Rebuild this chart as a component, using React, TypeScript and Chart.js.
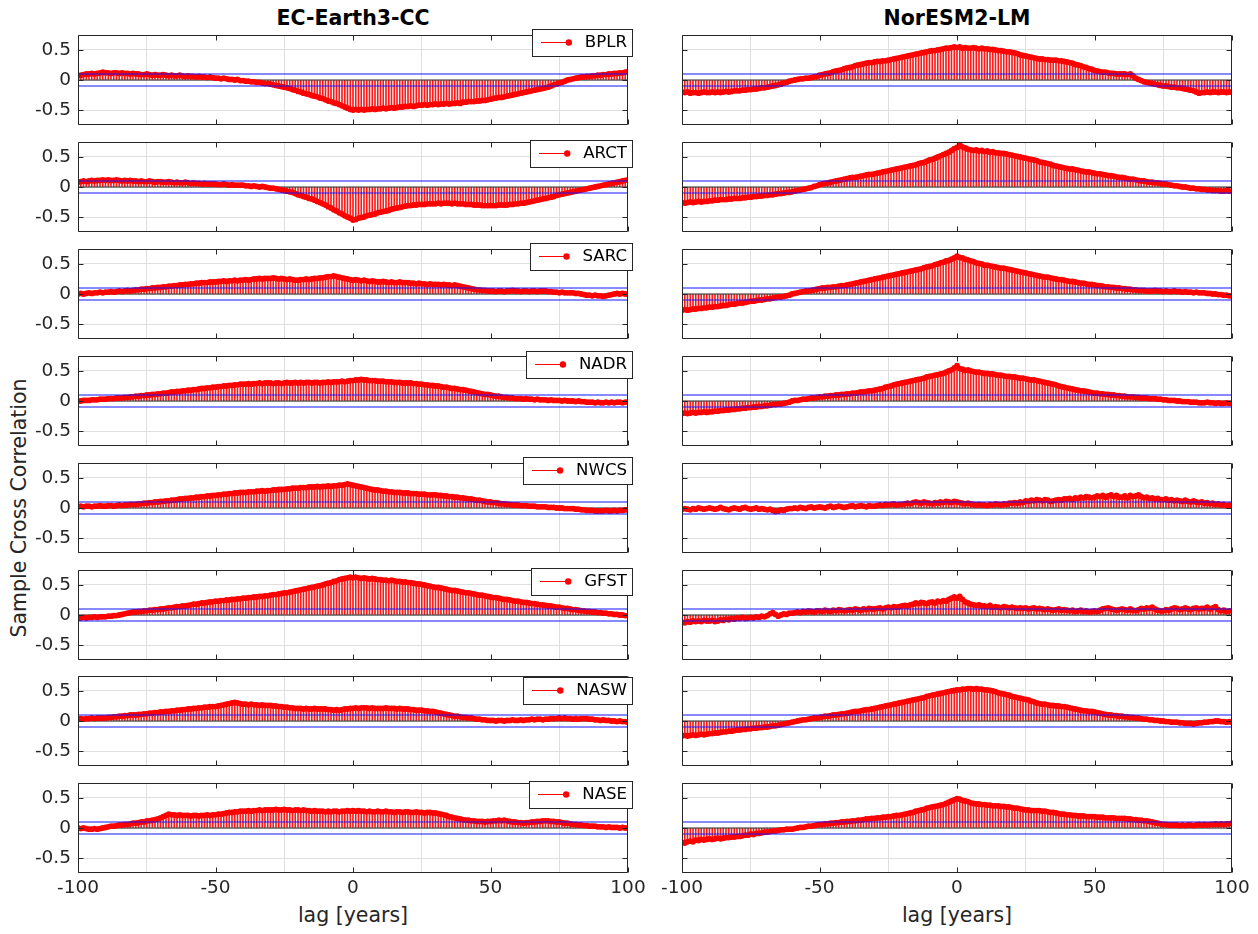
import React, { useEffect, useRef } from 'react';
import { Chart, registerables } from 'chart.js';

Chart.register(...registerables);

const MODELS = ['EC-Earth3-CC', 'NorESM2-LM'];
const REGIONS = ['BPLR', 'ARCT', 'SARC', 'NADR', 'NWCS', 'GFST', 'NASW', 'NASE'];
const LAGS: number[] = Array.from({ length: 201 }, (_, i) => i - 100);
const CONF = 0.1;
const X_TICKS = [-100, -50, 0, 50, 100];
const Y_TICKS = [-0.5, 0, 0.5];
const X_LABEL = 'lag [years]';
const Y_LABEL = 'Sample Cross Correlation';

// ---------- EC-Earth3-CC ----------
const EC_BPLR = [
  0.07, 0.08, 0.09, 0.10, 0.10, 0.11, 0.10, 0.11, 0.12, 0.13,
  0.12, 0.12, 0.11, 0.12, 0.12, 0.11, 0.12, 0.11, 0.11, 0.10,
  0.11, 0.10, 0.10, 0.09, 0.09, 0.10, 0.09, 0.08, 0.09, 0.08,
  0.08, 0.09, 0.08, 0.07, 0.08, 0.07, 0.07, 0.08, 0.07, 0.06,
  0.07, 0.06, 0.06, 0.05, 0.06, 0.05, 0.05, 0.04, 0.05, 0.04,
  0.03, 0.03, 0.02, 0.03, 0.02, 0.01, 0.01, 0.00, 0.01, -0.01,
  -0.01, -0.02, -0.02, -0.03, -0.03, -0.04, -0.04, -0.05, -0.06, -0.06,
  -0.07, -0.08, -0.09, -0.10, -0.11, -0.12, -0.13, -0.14, -0.16, -0.17,
  -0.19, -0.20, -0.22, -0.23, -0.24, -0.26, -0.27, -0.28, -0.30, -0.31,
  -0.33, -0.35, -0.36, -0.38, -0.39, -0.41, -0.43, -0.45, -0.47, -0.49,
  -0.50, -0.49, -0.50, -0.49, -0.50, -0.49, -0.49, -0.48, -0.49, -0.48,
  -0.48, -0.47, -0.48, -0.47, -0.46, -0.47, -0.46, -0.45, -0.45, -0.44,
  -0.44, -0.43, -0.44, -0.43, -0.42, -0.42, -0.41, -0.42, -0.41, -0.41,
  -0.40, -0.41, -0.40, -0.40, -0.39, -0.40, -0.39, -0.39, -0.38, -0.39,
  -0.37, -0.37, -0.36, -0.36, -0.36, -0.35, -0.35, -0.34, -0.34, -0.33,
  -0.32, -0.31, -0.30, -0.29, -0.29, -0.28, -0.27, -0.26, -0.25, -0.24,
  -0.23, -0.22, -0.21, -0.20, -0.19, -0.18, -0.17, -0.16, -0.15, -0.14,
  -0.13, -0.12, -0.10, -0.08, -0.07, -0.05, -0.04, -0.02, 0.00, 0.01,
  0.02, 0.03, 0.04, 0.05, 0.05, 0.06, 0.06, 0.07, 0.07, 0.08,
  0.08, 0.09, 0.09, 0.10, 0.10, 0.11, 0.11, 0.12, 0.12, 0.13,
  0.14,
];

const EC_ARCT = [
  0.08, 0.09, 0.10, 0.09, 0.10, 0.11, 0.10, 0.11, 0.11, 0.12,
  0.11, 0.12, 0.11, 0.11, 0.12, 0.11, 0.10, 0.11, 0.10, 0.11,
  0.10, 0.10, 0.09, 0.10, 0.09, 0.09, 0.10, 0.09, 0.08, 0.09,
  0.09, 0.08, 0.08, 0.09, 0.08, 0.07, 0.08, 0.07, 0.07, 0.08,
  0.07, 0.06, 0.07, 0.06, 0.06, 0.05, 0.06, 0.05, 0.05, 0.05,
  0.05, 0.04, 0.04, 0.05, 0.04, 0.03, 0.04, 0.03, 0.03, 0.03,
  0.03, 0.02, 0.02, 0.01, 0.02, 0.01, 0.00, 0.01, 0.00, -0.01,
  -0.02, -0.02, -0.03, -0.04, -0.05, -0.06, -0.07, -0.08, -0.09, -0.11,
  -0.13, -0.14, -0.16, -0.17, -0.19, -0.20, -0.22, -0.24, -0.26, -0.28,
  -0.30, -0.33, -0.35, -0.38, -0.40, -0.43, -0.45, -0.48, -0.50, -0.52,
  -0.55, -0.54, -0.52, -0.51, -0.50, -0.48, -0.47, -0.46, -0.45, -0.43,
  -0.42, -0.41, -0.40, -0.39, -0.37, -0.36, -0.35, -0.34, -0.33, -0.32,
  -0.31, -0.31, -0.30, -0.30, -0.29, -0.29, -0.29, -0.28, -0.28, -0.28,
  -0.28, -0.27, -0.28, -0.27, -0.27, -0.27, -0.28, -0.27, -0.28, -0.28,
  -0.28, -0.29, -0.29, -0.29, -0.30, -0.30, -0.30, -0.31, -0.31, -0.31,
  -0.31, -0.31, -0.31, -0.30, -0.30, -0.30, -0.30, -0.29, -0.29, -0.28,
  -0.28, -0.27, -0.27, -0.26, -0.25, -0.24, -0.23, -0.22, -0.21, -0.20,
  -0.19, -0.18, -0.17, -0.16, -0.14, -0.13, -0.12, -0.11, -0.10, -0.09,
  -0.08, -0.07, -0.06, -0.05, -0.04, -0.03, -0.02, -0.01, 0.00, 0.01,
  0.02, 0.03, 0.04, 0.05, 0.06, 0.07, 0.08, 0.09, 0.10, 0.11,
  0.12,
];

const EC_SARC = [
  0.00, 0.01, 0.00, 0.01, 0.02, 0.01, 0.02, 0.02, 0.03, 0.02,
  0.03, 0.03, 0.04, 0.03, 0.04, 0.05, 0.04, 0.05, 0.06, 0.05,
  0.06, 0.07, 0.07, 0.08, 0.08, 0.09, 0.09, 0.10, 0.10, 0.11,
  0.11, 0.12, 0.12, 0.13, 0.13, 0.14, 0.14, 0.15, 0.15, 0.16,
  0.16, 0.17, 0.17, 0.18, 0.18, 0.19, 0.19, 0.19, 0.20, 0.20,
  0.20, 0.21, 0.21, 0.22, 0.21, 0.22, 0.22, 0.23, 0.22, 0.23,
  0.23, 0.24, 0.23, 0.24, 0.25, 0.25, 0.26, 0.25, 0.26, 0.26,
  0.26, 0.27, 0.26, 0.25, 0.26, 0.25, 0.24, 0.25, 0.24, 0.23,
  0.23, 0.24, 0.24, 0.25, 0.24, 0.25, 0.26, 0.26, 0.27, 0.27,
  0.28, 0.29, 0.29, 0.30, 0.29, 0.28, 0.27, 0.26, 0.25, 0.24,
  0.23, 0.24, 0.23, 0.22, 0.23, 0.22, 0.21, 0.22, 0.21, 0.20,
  0.20, 0.21, 0.20, 0.19, 0.20, 0.19, 0.19, 0.20, 0.19, 0.19,
  0.19, 0.18, 0.18, 0.17, 0.18, 0.17, 0.17, 0.16, 0.17, 0.16,
  0.16, 0.16, 0.15, 0.16, 0.15, 0.15, 0.14, 0.15, 0.14, 0.13,
  0.12, 0.11, 0.10, 0.09, 0.08, 0.07, 0.07, 0.06, 0.06, 0.05,
  0.05, 0.05, 0.04, 0.05, 0.05, 0.04, 0.05, 0.05, 0.06, 0.05,
  0.05, 0.04, 0.05, 0.05, 0.04, 0.05, 0.05, 0.04, 0.05, 0.05,
  0.05, 0.04, 0.04, 0.03, 0.03, 0.02, 0.03, 0.02, 0.02, 0.02,
  0.02, 0.01, 0.01, 0.00, -0.01, -0.02, -0.02, -0.03, -0.02, -0.03,
  -0.03, -0.04, -0.03, -0.02, -0.01, 0.00, 0.01, 0.00, 0.01, 0.00,
  0.00,
];

const EC_NADR = [
  0.00, 0.00, 0.01, 0.01, 0.01, 0.02, 0.02, 0.02, 0.03, 0.03,
  0.03, 0.04, 0.04, 0.04, 0.05, 0.05, 0.05, 0.06, 0.06, 0.07,
  0.07, 0.08, 0.08, 0.09, 0.09, 0.10, 0.10, 0.11, 0.11, 0.12,
  0.12, 0.13, 0.13, 0.14, 0.15, 0.15, 0.16, 0.16, 0.17, 0.17,
  0.18, 0.18, 0.19, 0.19, 0.20, 0.21, 0.21, 0.22, 0.22, 0.23,
  0.23, 0.24, 0.24, 0.25, 0.25, 0.26, 0.26, 0.27, 0.27, 0.28,
  0.28, 0.28, 0.29, 0.28, 0.29, 0.29, 0.30, 0.29, 0.30, 0.30,
  0.30, 0.29, 0.30, 0.30, 0.29, 0.30, 0.31, 0.30, 0.30, 0.31,
  0.30, 0.31, 0.30, 0.31, 0.31, 0.30, 0.31, 0.31, 0.30, 0.31,
  0.31, 0.32, 0.31, 0.32, 0.32, 0.32, 0.33, 0.32, 0.33, 0.34,
  0.34, 0.35, 0.35, 0.36, 0.35, 0.35, 0.34, 0.34, 0.34, 0.33,
  0.33, 0.33, 0.32, 0.32, 0.32, 0.31, 0.31, 0.31, 0.30, 0.30,
  0.30, 0.30, 0.29, 0.29, 0.28, 0.28, 0.27, 0.27, 0.26, 0.26,
  0.25, 0.25, 0.24, 0.23, 0.23, 0.22, 0.21, 0.21, 0.20, 0.19,
  0.19, 0.18, 0.17, 0.16, 0.15, 0.14, 0.13, 0.12, 0.11, 0.11,
  0.10, 0.09, 0.08, 0.08, 0.07, 0.06, 0.06, 0.05, 0.05, 0.04,
  0.04, 0.04, 0.03, 0.04, 0.03, 0.03, 0.02, 0.03, 0.02, 0.02,
  0.02, 0.01, 0.02, 0.01, 0.01, 0.01, 0.00, 0.01, 0.00, 0.00,
  0.00, -0.01, 0.00, -0.01, -0.01, -0.02, -0.02, -0.02, -0.03, -0.02,
  -0.03, -0.03, -0.02, -0.03, -0.02, -0.03, -0.02, -0.02, -0.03, -0.02,
  -0.02,
];

const EC_NWCS = [
  0.02, 0.03, 0.02, 0.03, 0.03, 0.02, 0.03, 0.03, 0.04, 0.03,
  0.03, 0.04, 0.04, 0.03, 0.04, 0.05, 0.04, 0.05, 0.05, 0.06,
  0.06, 0.06, 0.07, 0.07, 0.08, 0.08, 0.09, 0.09, 0.10, 0.10,
  0.11, 0.11, 0.12, 0.12, 0.13, 0.13, 0.14, 0.15, 0.15, 0.16,
  0.16, 0.17, 0.17, 0.18, 0.18, 0.19, 0.19, 0.20, 0.20, 0.21,
  0.21, 0.22, 0.22, 0.23, 0.23, 0.24, 0.24, 0.25, 0.25, 0.26,
  0.26, 0.26, 0.27, 0.27, 0.27, 0.28, 0.28, 0.29, 0.28, 0.29,
  0.29, 0.30, 0.30, 0.31, 0.31, 0.31, 0.32, 0.32, 0.33, 0.33,
  0.33, 0.34, 0.34, 0.34, 0.35, 0.35, 0.35, 0.36, 0.35, 0.36,
  0.36, 0.37, 0.36, 0.37, 0.37, 0.38, 0.38, 0.39, 0.40, 0.39,
  0.38, 0.37, 0.36, 0.35, 0.34, 0.33, 0.32, 0.31, 0.30, 0.30,
  0.29, 0.28, 0.28, 0.27, 0.27, 0.26, 0.26, 0.26, 0.25, 0.25,
  0.25, 0.24, 0.24, 0.24, 0.23, 0.23, 0.23, 0.22, 0.22, 0.22,
  0.22, 0.21, 0.21, 0.20, 0.20, 0.19, 0.19, 0.18, 0.18, 0.17,
  0.17, 0.16, 0.15, 0.15, 0.14, 0.13, 0.13, 0.12, 0.11, 0.10,
  0.10, 0.09, 0.09, 0.08, 0.07, 0.07, 0.06, 0.06, 0.05, 0.05,
  0.05, 0.04, 0.04, 0.04, 0.03, 0.03, 0.03, 0.02, 0.02, 0.02,
  0.02, 0.01, 0.01, 0.01, 0.00, 0.00, 0.00, -0.01, -0.01, -0.01,
  -0.01, -0.02, -0.02, -0.03, -0.03, -0.04, -0.04, -0.04, -0.05, -0.05,
  -0.05, -0.05, -0.04, -0.05, -0.05, -0.04, -0.05, -0.04, -0.04, -0.03,
  -0.03,
];

const EC_GFST = [
  -0.05, -0.05, -0.04, -0.05, -0.04, -0.04, -0.03, -0.04, -0.03, -0.03,
  -0.03, -0.02, -0.02, -0.01, -0.01, 0.00, 0.01, 0.02, 0.03, 0.04,
  0.05, 0.05, 0.06, 0.06, 0.07, 0.07, 0.08, 0.08, 0.09, 0.09,
  0.10, 0.10, 0.11, 0.12, 0.12, 0.13, 0.14, 0.14, 0.15, 0.15,
  0.16, 0.17, 0.18, 0.18, 0.19, 0.20, 0.20, 0.21, 0.22, 0.22,
  0.23, 0.23, 0.24, 0.24, 0.25, 0.25, 0.26, 0.26, 0.27, 0.27,
  0.28, 0.28, 0.29, 0.29, 0.30, 0.30, 0.31, 0.31, 0.32, 0.32,
  0.33, 0.34, 0.34, 0.35, 0.36, 0.37, 0.37, 0.38, 0.39, 0.40,
  0.41, 0.42, 0.43, 0.44, 0.45, 0.46, 0.47, 0.48, 0.49, 0.50,
  0.52, 0.53, 0.54, 0.56, 0.57, 0.59, 0.60, 0.61, 0.62, 0.63,
  0.62, 0.63, 0.62, 0.61, 0.62, 0.61, 0.60, 0.61, 0.60, 0.59,
  0.59, 0.58, 0.58, 0.57, 0.58, 0.57, 0.56, 0.56, 0.55, 0.55,
  0.54, 0.54, 0.53, 0.52, 0.52, 0.51, 0.50, 0.49, 0.48, 0.47,
  0.46, 0.46, 0.45, 0.44, 0.43, 0.42, 0.41, 0.41, 0.40, 0.39,
  0.38, 0.37, 0.37, 0.36, 0.35, 0.34, 0.33, 0.33, 0.32, 0.31,
  0.30, 0.29, 0.29, 0.28, 0.27, 0.26, 0.26, 0.25, 0.24, 0.23,
  0.23, 0.22, 0.21, 0.21, 0.20, 0.19, 0.19, 0.18, 0.17, 0.17,
  0.16, 0.15, 0.15, 0.14, 0.13, 0.13, 0.12, 0.11, 0.11, 0.10,
  0.09, 0.09, 0.08, 0.07, 0.07, 0.06, 0.06, 0.05, 0.05, 0.04,
  0.04, 0.03, 0.03, 0.02, 0.02, 0.01, 0.01, 0.00, 0.00, -0.01,
  -0.01,
];

const EC_NASW = [
  0.03, 0.04, 0.03, 0.04, 0.04, 0.05, 0.04, 0.05, 0.05, 0.05,
  0.05, 0.06, 0.06, 0.07, 0.07, 0.08, 0.08, 0.09, 0.09, 0.10,
  0.10, 0.10, 0.11, 0.11, 0.12, 0.12, 0.13, 0.13, 0.14, 0.14,
  0.15, 0.15, 0.16, 0.16, 0.17, 0.17, 0.18, 0.18, 0.19, 0.19,
  0.20, 0.20, 0.21, 0.21, 0.22, 0.22, 0.23, 0.23, 0.24, 0.24,
  0.24, 0.25, 0.26, 0.27, 0.28, 0.29, 0.30, 0.31, 0.30, 0.29,
  0.28, 0.28, 0.27, 0.28, 0.27, 0.27, 0.26, 0.27, 0.26, 0.26,
  0.26, 0.25, 0.25, 0.24, 0.24, 0.23, 0.23, 0.22, 0.22, 0.21,
  0.21, 0.21, 0.20, 0.21, 0.20, 0.20, 0.21, 0.20, 0.20, 0.20,
  0.20, 0.19, 0.19, 0.18, 0.19, 0.18, 0.19, 0.20, 0.20, 0.21,
  0.21, 0.22, 0.21, 0.22, 0.22, 0.22, 0.21, 0.22, 0.21, 0.21,
  0.21, 0.21, 0.22, 0.21, 0.21, 0.21, 0.20, 0.21, 0.20, 0.20,
  0.20, 0.19, 0.19, 0.18, 0.18, 0.18, 0.17, 0.17, 0.16, 0.16,
  0.15, 0.14, 0.13, 0.12, 0.11, 0.10, 0.09, 0.08, 0.08, 0.07,
  0.06, 0.06, 0.05, 0.05, 0.04, 0.03, 0.03, 0.02, 0.02, 0.01,
  0.01, 0.01, 0.00, 0.01, 0.01, 0.00, 0.01, 0.01, 0.02, 0.01,
  0.01, 0.02, 0.01, 0.02, 0.02, 0.03, 0.02, 0.03, 0.03, 0.02,
  0.03, 0.03, 0.04, 0.04, 0.04, 0.05, 0.04, 0.05, 0.04, 0.04,
  0.03, 0.04, 0.03, 0.04, 0.04, 0.04, 0.03, 0.03, 0.02, 0.02,
  0.01, 0.02, 0.01, 0.01, 0.00, 0.00, -0.01, 0.00, -0.01, -0.01,
  -0.02,
];

const EC_NASE = [
  0.00, -0.01, 0.00, -0.01, -0.02, -0.02, -0.01, -0.02, -0.01, 0.00,
  0.01, 0.02, 0.03, 0.03, 0.04, 0.05, 0.05, 0.06, 0.06, 0.07,
  0.08, 0.08, 0.09, 0.10, 0.10, 0.12, 0.12, 0.13, 0.14, 0.15,
  0.17, 0.19, 0.21, 0.23, 0.22, 0.22, 0.21, 0.22, 0.21, 0.21,
  0.21, 0.20, 0.21, 0.21, 0.20, 0.21, 0.21, 0.22, 0.21, 0.22,
  0.22, 0.23, 0.23, 0.24, 0.25, 0.26, 0.26, 0.27, 0.27, 0.28,
  0.28, 0.28, 0.29, 0.28, 0.29, 0.29, 0.30, 0.29, 0.30, 0.30,
  0.30, 0.30, 0.31, 0.30, 0.30, 0.31, 0.30, 0.30, 0.29, 0.30,
  0.30, 0.29, 0.30, 0.29, 0.29, 0.28, 0.29, 0.28, 0.28, 0.28,
  0.27, 0.28, 0.27, 0.28, 0.28, 0.27, 0.28, 0.28, 0.29, 0.28,
  0.29, 0.28, 0.29, 0.28, 0.28, 0.27, 0.28, 0.27, 0.27, 0.28,
  0.27, 0.27, 0.28, 0.27, 0.27, 0.26, 0.27, 0.27, 0.26, 0.27,
  0.27, 0.26, 0.26, 0.27, 0.26, 0.26, 0.25, 0.26, 0.26, 0.25,
  0.25, 0.24, 0.23, 0.22, 0.21, 0.19, 0.18, 0.17, 0.16, 0.15,
  0.14, 0.13, 0.13, 0.12, 0.12, 0.11, 0.11, 0.11, 0.10, 0.11,
  0.11, 0.12, 0.12, 0.13, 0.12, 0.13, 0.12, 0.11, 0.10, 0.10,
  0.09, 0.09, 0.08, 0.09, 0.09, 0.10, 0.10, 0.11, 0.11, 0.12,
  0.12, 0.12, 0.11, 0.11, 0.10, 0.10, 0.09, 0.08, 0.08, 0.07,
  0.06, 0.06, 0.05, 0.05, 0.04, 0.04, 0.03, 0.03, 0.03, 0.02,
  0.02, 0.02, 0.01, 0.02, 0.01, 0.01, 0.01, 0.00, 0.01, 0.00,
  0.00,
];

// ---------- NorESM2-LM ----------
const NOR_BPLR = [
  -0.20, -0.21, -0.20, -0.22, -0.21, -0.21, -0.22, -0.21, -0.20, -0.21,
  -0.21, -0.20, -0.21, -0.20, -0.21, -0.20, -0.19, -0.20, -0.19, -0.18,
  -0.18, -0.18, -0.17, -0.17, -0.16, -0.16, -0.15, -0.15, -0.14, -0.13,
  -0.13, -0.12, -0.11, -0.10, -0.09, -0.08, -0.07, -0.05, -0.04, -0.02,
  -0.01, 0.00, 0.01, 0.02, 0.02, 0.03, 0.03, 0.04, 0.05, 0.06,
  0.08, 0.09, 0.10, 0.11, 0.12, 0.14, 0.15, 0.16, 0.17, 0.19,
  0.20, 0.21, 0.22, 0.24, 0.25, 0.26, 0.27, 0.28, 0.29, 0.29,
  0.30, 0.31, 0.31, 0.32, 0.32, 0.33, 0.34, 0.35, 0.36, 0.37,
  0.38, 0.39, 0.40, 0.41, 0.42, 0.43, 0.44, 0.45, 0.46, 0.47,
  0.48, 0.49, 0.49, 0.50, 0.51, 0.52, 0.53, 0.53, 0.54, 0.55,
  0.54, 0.55, 0.53, 0.54, 0.53, 0.53, 0.54, 0.53, 0.52, 0.53,
  0.52, 0.52, 0.51, 0.51, 0.50, 0.49, 0.49, 0.48, 0.47, 0.47,
  0.46, 0.45, 0.44, 0.42, 0.41, 0.40, 0.39, 0.38, 0.37, 0.36,
  0.35, 0.35, 0.34, 0.34, 0.33, 0.33, 0.33, 0.32, 0.32, 0.31,
  0.30, 0.29, 0.28, 0.26, 0.25, 0.24, 0.22, 0.21, 0.19, 0.18,
  0.16, 0.15, 0.14, 0.13, 0.13, 0.12, 0.11, 0.11, 0.10, 0.10,
  0.10, 0.10, 0.09, 0.10, 0.07, 0.03, 0.01, -0.01, -0.03, -0.04,
  -0.05, -0.06, -0.07, -0.08, -0.09, -0.10, -0.10, -0.11, -0.12, -0.12,
  -0.13, -0.13, -0.14, -0.15, -0.16, -0.17, -0.18, -0.20, -0.22, -0.21,
  -0.21, -0.20, -0.21, -0.20, -0.20, -0.21, -0.20, -0.20, -0.21, -0.20,
  -0.20,
];

const NOR_ARCT = [
  -0.26, -0.27, -0.26, -0.25, -0.26, -0.25, -0.24, -0.25, -0.24, -0.24,
  -0.23, -0.23, -0.22, -0.22, -0.21, -0.21, -0.21, -0.20, -0.20, -0.19,
  -0.19, -0.19, -0.18, -0.18, -0.17, -0.17, -0.16, -0.16, -0.15, -0.15,
  -0.14, -0.14, -0.13, -0.13, -0.12, -0.11, -0.11, -0.10, -0.09, -0.09,
  -0.08, -0.07, -0.06, -0.05, -0.04, -0.03, -0.02, -0.01, 0.01, 0.02,
  0.04, 0.05, 0.06, 0.07, 0.08, 0.09, 0.10, 0.11, 0.12, 0.13,
  0.14, 0.15, 0.16, 0.16, 0.17, 0.18, 0.19, 0.20, 0.21, 0.21,
  0.22, 0.23, 0.24, 0.25, 0.26, 0.27, 0.28, 0.29, 0.30, 0.31,
  0.32, 0.33, 0.34, 0.35, 0.36, 0.37, 0.39, 0.40, 0.41, 0.43,
  0.45, 0.46, 0.48, 0.50, 0.52, 0.54, 0.56, 0.58, 0.61, 0.64,
  0.66, 0.70, 0.67, 0.65, 0.63, 0.62, 0.61, 0.62, 0.60, 0.61,
  0.59, 0.60, 0.58, 0.59, 0.57, 0.57, 0.56, 0.56, 0.55, 0.54,
  0.53, 0.52, 0.51, 0.50, 0.49, 0.48, 0.47, 0.46, 0.45, 0.44,
  0.42, 0.41, 0.40, 0.39, 0.38, 0.36, 0.35, 0.34, 0.33, 0.32,
  0.31, 0.30, 0.30, 0.29, 0.28, 0.27, 0.26, 0.25, 0.25, 0.24,
  0.23, 0.22, 0.22, 0.21, 0.20, 0.19, 0.19, 0.18, 0.17, 0.16,
  0.16, 0.15, 0.14, 0.13, 0.13, 0.12, 0.11, 0.10, 0.10, 0.09,
  0.08, 0.08, 0.07, 0.07, 0.06, 0.05, 0.05, 0.04, 0.03, 0.02,
  0.02, 0.01, 0.00, 0.00, -0.01, -0.02, -0.02, -0.03, -0.03, -0.04,
  -0.04, -0.05, -0.05, -0.06, -0.06, -0.06, -0.07, -0.07, -0.06, -0.07,
  -0.07,
];

const NOR_SARC = [
  -0.27, -0.26, -0.27, -0.26, -0.25, -0.25, -0.24, -0.24, -0.23, -0.23,
  -0.22, -0.22, -0.21, -0.21, -0.20, -0.19, -0.19, -0.18, -0.17, -0.17,
  -0.16, -0.15, -0.15, -0.14, -0.13, -0.12, -0.12, -0.11, -0.10, -0.10,
  -0.09, -0.08, -0.08, -0.07, -0.06, -0.05, -0.05, -0.04, -0.03, -0.02,
  0.00, 0.01, 0.02, 0.03, 0.04, 0.05, 0.05, 0.06, 0.07, 0.08,
  0.09, 0.10, 0.10, 0.11, 0.11, 0.12, 0.12, 0.13, 0.14, 0.14,
  0.15, 0.16, 0.17, 0.18, 0.19, 0.20, 0.21, 0.22, 0.23, 0.24,
  0.25, 0.26, 0.27, 0.28, 0.29, 0.30, 0.31, 0.32, 0.33, 0.34,
  0.35, 0.36, 0.37, 0.38, 0.39, 0.40, 0.41, 0.42, 0.44, 0.45,
  0.46, 0.47, 0.49, 0.50, 0.52, 0.53, 0.55, 0.56, 0.58, 0.60,
  0.63, 0.61, 0.60, 0.58, 0.57, 0.55, 0.54, 0.52, 0.51, 0.50,
  0.48, 0.48, 0.47, 0.46, 0.45, 0.44, 0.43, 0.43, 0.42, 0.41,
  0.40, 0.39, 0.38, 0.37, 0.36, 0.35, 0.34, 0.33, 0.32, 0.31,
  0.30, 0.29, 0.28, 0.28, 0.27, 0.26, 0.25, 0.24, 0.24, 0.23,
  0.22, 0.21, 0.21, 0.20, 0.19, 0.18, 0.18, 0.17, 0.16, 0.16,
  0.15, 0.14, 0.14, 0.13, 0.12, 0.12, 0.11, 0.11, 0.10, 0.10,
  0.09, 0.09, 0.08, 0.08, 0.07, 0.07, 0.06, 0.06, 0.06, 0.05,
  0.05, 0.05, 0.06, 0.05, 0.05, 0.04, 0.05, 0.04, 0.04, 0.05,
  0.04, 0.04, 0.03, 0.04, 0.03, 0.03, 0.02, 0.03, 0.02, 0.02,
  0.02, 0.01, 0.01, 0.00, 0.00, -0.01, -0.01, -0.02, -0.02, -0.03,
  -0.03,
];

const NOR_NADR = [
  -0.21, -0.20, -0.21, -0.20, -0.19, -0.20, -0.19, -0.19, -0.18, -0.19,
  -0.18, -0.18, -0.17, -0.17, -0.16, -0.16, -0.15, -0.15, -0.14, -0.14,
  -0.13, -0.13, -0.12, -0.12, -0.11, -0.11, -0.10, -0.10, -0.09, -0.09,
  -0.08, -0.08, -0.07, -0.06, -0.06, -0.05, -0.05, -0.04, -0.03, -0.02,
  0.00, 0.01, 0.01, 0.02, 0.03, 0.03, 0.04, 0.05, 0.05, 0.06,
  0.07, 0.07, 0.08, 0.08, 0.09, 0.09, 0.10, 0.10, 0.11, 0.11,
  0.12, 0.12, 0.13, 0.13, 0.14, 0.15, 0.15, 0.16, 0.17, 0.17,
  0.18, 0.19, 0.20, 0.21, 0.23, 0.24, 0.25, 0.27, 0.28, 0.29,
  0.30, 0.31, 0.32, 0.33, 0.34, 0.35, 0.36, 0.37, 0.38, 0.40,
  0.41, 0.42, 0.43, 0.44, 0.45, 0.46, 0.48, 0.50, 0.52, 0.55,
  0.59, 0.54, 0.53, 0.51, 0.52, 0.50, 0.49, 0.48, 0.48, 0.47,
  0.46, 0.46, 0.45, 0.45, 0.44, 0.43, 0.43, 0.42, 0.41, 0.41,
  0.40, 0.40, 0.39, 0.38, 0.38, 0.37, 0.36, 0.35, 0.35, 0.34,
  0.33, 0.32, 0.31, 0.30, 0.29, 0.28, 0.27, 0.25, 0.24, 0.23,
  0.22, 0.21, 0.20, 0.19, 0.18, 0.17, 0.17, 0.16, 0.15, 0.14,
  0.13, 0.13, 0.12, 0.12, 0.11, 0.11, 0.10, 0.10, 0.09, 0.09,
  0.08, 0.08, 0.07, 0.07, 0.07, 0.06, 0.06, 0.05, 0.05, 0.05,
  0.04, 0.04, 0.04, 0.03, 0.03, 0.02, 0.02, 0.01, 0.01, 0.01,
  0.00, 0.00, -0.01, -0.01, -0.01, -0.02, -0.02, -0.02, -0.03, -0.03,
  -0.03, -0.02, -0.03, -0.03, -0.04, -0.03, -0.04, -0.04, -0.03, -0.04,
  -0.04,
];

const NOR_NWCS = [
  -0.02, -0.01, -0.02, -0.03, -0.01, -0.02, 0.00, -0.01, -0.02, -0.01,
  0.00, -0.01, -0.02, -0.01, 0.01, -0.01, -0.02, -0.03, -0.01, 0.00,
  -0.01, -0.02, 0.00, 0.01, -0.01, -0.02, -0.01, 0.00, -0.02, -0.01,
  -0.02, -0.03, -0.02, -0.04, -0.06, -0.05, -0.03, -0.04, -0.02, -0.01,
  -0.01, 0.00, -0.01, 0.01, 0.00, -0.01, 0.01, 0.02, 0.00, 0.01,
  0.02, 0.01, 0.00, 0.02, 0.03, 0.01, 0.02, 0.03, 0.02, 0.01,
  0.02, 0.03, 0.04, 0.02, 0.03, 0.04, 0.03, 0.02, 0.04, 0.03,
  0.03, 0.04, 0.05, 0.04, 0.06, 0.05, 0.06, 0.07, 0.05, 0.06,
  0.06, 0.07, 0.08, 0.07, 0.09, 0.10, 0.09, 0.08, 0.10, 0.09,
  0.08, 0.07, 0.09, 0.08, 0.10, 0.09, 0.11, 0.10, 0.09, 0.11,
  0.10, 0.09, 0.08, 0.07, 0.08, 0.07, 0.06, 0.05, 0.06, 0.05,
  0.05, 0.04, 0.06, 0.05, 0.07, 0.06, 0.05, 0.07, 0.06, 0.08,
  0.08, 0.09, 0.08, 0.10, 0.09, 0.12, 0.11, 0.13, 0.12, 0.14,
  0.13, 0.12, 0.14, 0.13, 0.11, 0.12, 0.13, 0.14, 0.13, 0.15,
  0.15, 0.16, 0.14, 0.17, 0.16, 0.18, 0.17, 0.19, 0.18, 0.17,
  0.18, 0.20, 0.19, 0.21, 0.18, 0.20, 0.22, 0.19, 0.21, 0.18,
  0.18, 0.20, 0.17, 0.21, 0.19, 0.20, 0.22, 0.19, 0.17, 0.18,
  0.16, 0.17, 0.15, 0.16, 0.14, 0.14, 0.15, 0.13, 0.14, 0.12,
  0.13, 0.12, 0.11, 0.13, 0.11, 0.10, 0.12, 0.10, 0.09, 0.10,
  0.08, 0.09, 0.07, 0.08, 0.06, 0.07, 0.05, 0.06, 0.04, 0.05,
  0.03,
];

const NOR_GFST = [
  -0.12, -0.13, -0.11, -0.12, -0.10, -0.11, -0.10, -0.11, -0.09, -0.10,
  -0.10, -0.09, -0.11, -0.10, -0.08, -0.09, -0.07, -0.08, -0.06, -0.07,
  -0.05, -0.06, -0.04, -0.06, -0.05, -0.04, -0.05, -0.03, -0.04, -0.02,
  -0.03, -0.01, 0.02, 0.04, 0.01, -0.02, 0.00, 0.02, 0.01, 0.03,
  0.03, 0.04, 0.05, 0.04, 0.06, 0.05, 0.07, 0.06, 0.05, 0.07,
  0.07, 0.06, 0.08, 0.07, 0.06, 0.08, 0.07, 0.09, 0.08, 0.07,
  0.08, 0.09, 0.08, 0.10, 0.09, 0.08, 0.10, 0.09, 0.11, 0.10,
  0.10, 0.11, 0.12, 0.10, 0.12, 0.13, 0.12, 0.14, 0.13, 0.14,
  0.15, 0.16, 0.15, 0.17, 0.18, 0.20, 0.19, 0.21, 0.20, 0.19,
  0.21, 0.22, 0.20, 0.23, 0.22, 0.24, 0.23, 0.26, 0.28, 0.30,
  0.28, 0.31, 0.26, 0.22, 0.20, 0.18, 0.17, 0.16, 0.17, 0.15,
  0.15, 0.14, 0.16, 0.13, 0.14, 0.13, 0.12, 0.14, 0.13, 0.12,
  0.13, 0.12, 0.11, 0.12, 0.11, 0.12, 0.10, 0.11, 0.12, 0.10,
  0.11, 0.10, 0.09, 0.10, 0.09, 0.08, 0.09, 0.10, 0.08, 0.09,
  0.08, 0.07, 0.08, 0.06, 0.07, 0.08, 0.06, 0.07, 0.05, 0.06,
  0.07, 0.06, 0.08, 0.10, 0.11, 0.12, 0.10, 0.09, 0.08, 0.09,
  0.10, 0.09, 0.08, 0.10, 0.08, 0.07, 0.09, 0.11, 0.10, 0.12,
  0.11, 0.13, 0.10, 0.08, 0.07, 0.07, 0.09, 0.08, 0.10, 0.12,
  0.11, 0.09, 0.10, 0.12, 0.10, 0.09, 0.11, 0.12, 0.10, 0.11,
  0.11, 0.13, 0.10, 0.12, 0.14, 0.09, 0.07, 0.08, 0.06, 0.07,
  0.07,
];

const NOR_NASW = [
  -0.25, -0.24, -0.25, -0.24, -0.23, -0.24, -0.23, -0.22, -0.23, -0.22,
  -0.21, -0.21, -0.20, -0.20, -0.19, -0.18, -0.18, -0.17, -0.17, -0.16,
  -0.15, -0.15, -0.14, -0.14, -0.13, -0.13, -0.12, -0.12, -0.11, -0.11,
  -0.10, -0.10, -0.09, -0.08, -0.08, -0.07, -0.06, -0.05, -0.04, -0.03,
  -0.02, -0.01, 0.00, 0.01, 0.02, 0.02, 0.03, 0.04, 0.05, 0.05,
  0.06, 0.07, 0.08, 0.08, 0.09, 0.10, 0.10, 0.11, 0.12, 0.12,
  0.13, 0.14, 0.15, 0.16, 0.16, 0.17, 0.18, 0.19, 0.19, 0.20,
  0.21, 0.22, 0.23, 0.24, 0.25, 0.26, 0.27, 0.28, 0.29, 0.30,
  0.31, 0.32, 0.33, 0.34, 0.35, 0.36, 0.37, 0.38, 0.39, 0.41,
  0.42, 0.43, 0.44, 0.45, 0.46, 0.47, 0.48, 0.49, 0.50, 0.51,
  0.52, 0.52, 0.53, 0.53, 0.54, 0.54, 0.53, 0.54, 0.53, 0.53,
  0.52, 0.52, 0.51, 0.50, 0.49, 0.47, 0.46, 0.45, 0.44, 0.43,
  0.41, 0.40, 0.39, 0.38, 0.37, 0.36, 0.35, 0.33, 0.32, 0.30,
  0.29, 0.28, 0.28, 0.27, 0.26, 0.26, 0.25, 0.25, 0.24, 0.24,
  0.23, 0.22, 0.21, 0.20, 0.19, 0.18, 0.17, 0.17, 0.16, 0.16,
  0.15, 0.14, 0.13, 0.12, 0.11, 0.10, 0.10, 0.09, 0.09, 0.08,
  0.08, 0.07, 0.07, 0.06, 0.06, 0.05, 0.05, 0.04, 0.03, 0.03,
  0.02, 0.02, 0.01, 0.01, 0.00, 0.00, -0.01, -0.01, -0.02, -0.02,
  -0.02, -0.03, -0.03, -0.04, -0.04, -0.04, -0.05, -0.04, -0.03, -0.03,
  -0.02, -0.02, -0.01, -0.01, 0.00, 0.00, -0.01, -0.01, -0.02, -0.01,
  -0.02,
];

const NOR_NASE = [
  -0.24, -0.25, -0.23, -0.22, -0.23, -0.20, -0.21, -0.19, -0.20, -0.19,
  -0.18, -0.19, -0.18, -0.17, -0.18, -0.17, -0.16, -0.16, -0.15, -0.15,
  -0.14, -0.14, -0.13, -0.12, -0.12, -0.10, -0.11, -0.09, -0.09, -0.08,
  -0.07, -0.07, -0.06, -0.05, -0.05, -0.04, -0.03, -0.03, -0.02, -0.02,
  -0.02, -0.01, 0.00, 0.01, 0.01, 0.02, 0.03, 0.03, 0.04, 0.05,
  0.06, 0.06, 0.07, 0.07, 0.08, 0.08, 0.09, 0.09, 0.10, 0.10,
  0.11, 0.11, 0.12, 0.12, 0.13, 0.13, 0.14, 0.15, 0.15, 0.16,
  0.16, 0.17, 0.17, 0.18, 0.18, 0.19, 0.19, 0.20, 0.21, 0.21,
  0.22, 0.23, 0.24, 0.25, 0.26, 0.28, 0.29, 0.30, 0.31, 0.33,
  0.34, 0.35, 0.36, 0.37, 0.38, 0.39, 0.41, 0.43, 0.45, 0.47,
  0.49, 0.48, 0.46, 0.45, 0.44, 0.42, 0.41, 0.40, 0.40, 0.39,
  0.39, 0.38, 0.38, 0.37, 0.37, 0.37, 0.36, 0.36, 0.35, 0.35,
  0.34, 0.33, 0.33, 0.32, 0.31, 0.30, 0.30, 0.29, 0.29, 0.29,
  0.29, 0.28, 0.28, 0.27, 0.26, 0.26, 0.25, 0.24, 0.23, 0.23,
  0.22, 0.22, 0.21, 0.21, 0.20, 0.20, 0.20, 0.19, 0.19, 0.19,
  0.19, 0.18, 0.18, 0.18, 0.17, 0.17, 0.17, 0.17, 0.16, 0.16,
  0.16, 0.16, 0.15, 0.15, 0.14, 0.14, 0.13, 0.13, 0.12, 0.12,
  0.11, 0.10, 0.09, 0.08, 0.07, 0.06, 0.06, 0.05, 0.05, 0.05,
  0.05, 0.04, 0.05, 0.04, 0.05, 0.05, 0.04, 0.05, 0.06, 0.05,
  0.06, 0.05, 0.06, 0.06, 0.07, 0.06, 0.07, 0.06, 0.07, 0.07,
  0.08,
];

const SERIES: number[][][] = [
  [EC_BPLR, NOR_BPLR],
  [EC_ARCT, NOR_ARCT],
  [EC_SARC, NOR_SARC],
  [EC_NADR, NOR_NADR],
  [EC_NWCS, NOR_NWCS],
  [EC_GFST, NOR_GFST],
  [EC_NASW, NOR_NASW],
  [EC_NASE, NOR_NASE],
];

// ---------- layout (pixels) ----------
const FONT = '"DejaVu Sans", sans-serif';
const TICK_SIZE = 18.5;
const LABEL_SIZE = 20.5;
const LEGEND_SIZE = 16.6;
const AX_TOP = [35, 142, 249, 356, 463, 570, 676, 783];
const AX_H = 90;
const PAD_TOP = 12;
const PAD_BOTTOM = 4;
const XLAB_H = 34;
const COL_LEFT = [0, 650];
const COL_WIDTH = [650, 608];
const AX_LEFT = [78, 682];
const AX_RIGHT = [628, 1232];
const LEGEND_DY = [7, 11, 7, 8, 7, 11, 14, 11];
const LEGEND_RIGHT = 632;
const TEXT = '#262626';
const BLUE = '#1414ff';

const boxPlugin = {
  id: 'axbox',
  afterDraw(chart: any, _args: any, opts: any) {
    const { ctx, chartArea, scales } = chart;
    const { left, top, right, bottom } = chartArea;
    ctx.save();
    ctx.strokeStyle = TEXT;
    ctx.lineWidth = 1;
    const L = Math.round(left) + 0.5;
    const T = Math.round(top) + 0.5;
    const R = Math.round(right) - 0.5;
    const B = Math.round(bottom) - 0.5;
    ctx.beginPath();
    ctx.rect(L, T, R - L, B - T);
    const tl = 5;
    X_TICKS.forEach((v) => {
      const px = Math.round(scales.x.getPixelForValue(v)) + 0.5;
      ctx.moveTo(px, B);
      ctx.lineTo(px, B - tl);
      ctx.moveTo(px, T);
      ctx.lineTo(px, T + tl);
    });
    Y_TICKS.forEach((v) => {
      const py = Math.round(scales.y.getPixelForValue(v)) + 0.5;
      ctx.moveTo(L, py);
      ctx.lineTo(L + tl, py);
      ctx.moveTo(R, py);
      ctx.lineTo(R - tl, py);
    });
    ctx.stroke();

    if (opts && opts.label) {
      ctx.font = `${LEGEND_SIZE}px ${FONT}`;
      const tw = ctx.measureText(opts.label).width;
      const boxR = opts.right;
      const textEnd = boxR - 5;
      const textStart = textEnd - tw;
      const dotX = textStart - 16;
      const lineStart = dotX - 28;
      const boxL = Math.round(lineStart - 9);
      const cy = top + opts.dy;
      const bh = 27;
      const bt = Math.round(cy - bh / 2) + 0.5;
      ctx.fillStyle = '#ffffff';
      ctx.fillRect(boxL + 0.5, bt, Math.round(boxR - boxL), bh);
      ctx.strokeStyle = TEXT;
      ctx.strokeRect(boxL + 0.5, bt, Math.round(boxR - boxL), bh);
      const ly = Math.round(cy);
      ctx.fillStyle = '#ff0000';
      ctx.fillRect(Math.round(lineStart), ly, Math.round(dotX - lineStart), 1);
      ctx.beginPath();
      ctx.arc(dotX, ly + 0.5, 3.2, 0, Math.PI * 2);
      ctx.fill();
      ctx.fillStyle = '#000000';
      ctx.textBaseline = 'middle';
      ctx.textAlign = 'left';
      ctx.fillText(opts.label, textStart, cy + 1);
    }
    ctx.restore();
  },
};

function makeConfig(row: number, col: number): any {
  const values = SERIES[row][col];
  const pts = LAGS.map((x, i) => ({ x, y: values[i] }));
  const isBottom = row === REGIONS.length - 1;
  const yAxisWidth = AX_LEFT[col] - COL_LEFT[col];
  const padRight = COL_LEFT[col] + COL_WIDTH[col] - AX_RIGHT[col];
  const line = (y: number, color: string, order: number) => ({
    type: 'line',
    data: [
      { x: LAGS[0], y },
      { x: LAGS[LAGS.length - 1], y },
    ],
    borderColor: color,
    borderWidth: 1.1,
    pointRadius: 0,
    fill: false,
    order,
  });
  return {
    type: 'bar',
    data: {
      datasets: [
        line(CONF, BLUE, 0),
        line(-CONF, BLUE, 0),
        {
          type: 'line',
          data: pts,
          showLine: false,
          pointRadius: 2.9,
          pointBackgroundColor: '#ff0000',
          pointBorderWidth: 0,
          order: 1,
        },
        line(0, TEXT, 2),
        {
          type: 'bar',
          data: pts,
          backgroundColor: 'rgba(255,0,0,0.9)',
          barThickness: 1,
          order: 3,
        },
      ],
    },
    options: {
      responsive: false,
      animation: false,
      devicePixelRatio: 1,
      events: [],
      layout: { padding: { left: 0, right: padRight, top: PAD_TOP, bottom: PAD_BOTTOM } },
      plugins: {
        legend: { display: false },
        tooltip: { enabled: false },
        axbox: col === 0 ? { label: REGIONS[row], dy: LEGEND_DY[row], right: LEGEND_RIGHT - COL_LEFT[col] } : {},
      },
      scales: {
        x: {
          type: 'linear',
          min: LAGS[0],
          max: LAGS[LAGS.length - 1],
          offset: false,
          afterBuildTicks: (s: any) => {
            s.ticks = X_TICKS.map((v) => ({ value: v }));
          },
          afterFit: (s: any) => {
            s.height = isBottom ? XLAB_H : 0;
            s.paddingLeft = 0;
            s.paddingRight = 0;
            s.paddingTop = 0;
            s.paddingBottom = 0;
          },
          ticks: {
            display: isBottom,
            autoSkip: false,
            maxRotation: 0,
            padding: 4,
            color: TEXT,
            font: { family: FONT, size: TICK_SIZE },
            callback: (v: any) => String(v),
          },
          grid: { color: '#dfdfdf', drawTicks: false, lineWidth: 1 },
          border: { display: false },
        },
        y: {
          type: 'linear',
          min: -0.75,
          max: 0.75,
          afterBuildTicks: (s: any) => {
            s.ticks = Y_TICKS.map((v) => ({ value: v }));
          },
          afterFit: (s: any) => {
            s.width = yAxisWidth;
            s.paddingTop = 0;
            s.paddingBottom = 0;
            s.paddingLeft = 0;
            s.paddingRight = 0;
          },
          ticks: {
            display: col === 0,
            padding: 7,
            color: TEXT,
            font: { family: FONT, size: TICK_SIZE },
            callback: (v: any) => String(v),
          },
          grid: { color: '#dfdfdf', drawTicks: false, lineWidth: 1 },
          border: { display: false },
        },
      },
    },
    plugins: [boxPlugin],
  };
}

function Cell({ row, col }: { row: number; col: number }) {
  const ref = useRef<HTMLCanvasElement | null>(null);
  const isBottom = row === REGIONS.length - 1;
  const width = COL_WIDTH[col];
  const height = PAD_TOP + AX_H + PAD_BOTTOM + (isBottom ? XLAB_H : 0);
  useEffect(() => {
    if (!ref.current) return;
    const chart = new Chart(ref.current, makeConfig(row, col));
    return () => chart.destroy();
  }, [row, col]);
  return (
    <canvas
      ref={ref}
      width={width}
      height={height}
      style={{ position: 'absolute', left: COL_LEFT[col], top: AX_TOP[row] - PAD_TOP, width, height }}
    />
  );
}

export default function App() {
  const colCenter = (c: number) => (AX_LEFT[c] + AX_RIGHT[c]) / 2;
  return (
    <div
      style={{
        position: 'absolute',
        left: 0,
        top: 0,
        width: 1258,
        height: 934,
        background: '#ffffff',
        overflow: 'hidden',
        fontFamily: FONT,
      }}
    >
      {MODELS.map((m, c) => (
        <div
          key={m}
          style={{
            position: 'absolute',
            left: colCenter(c),
            top: 18,
            transform: 'translate(-50%, -50%)',
            fontWeight: 'bold',
            fontSize: LABEL_SIZE,
            color: '#000',
            whiteSpace: 'nowrap',
            lineHeight: 1,
          }}
        >
          {m}
        </div>
      ))}
      {MODELS.map((m, c) => (
        <div
          key={m + '-x'}
          style={{
            position: 'absolute',
            left: colCenter(c),
            top: 915,
            transform: 'translate(-50%, -50%)',
            fontSize: LABEL_SIZE,
            color: TEXT,
            whiteSpace: 'nowrap',
            lineHeight: 1,
          }}
        >
          {X_LABEL}
        </div>
      ))}
      <div
        style={{
          position: 'absolute',
          left: 19,
          top: 508,
          transform: 'translate(-50%, -50%) rotate(-90deg)',
          fontSize: LABEL_SIZE,
          color: TEXT,
          whiteSpace: 'nowrap',
          lineHeight: 1,
        }}
      >
        {Y_LABEL}
      </div>
      {SERIES.map((pair, r) => pair.map((_, c) => <Cell key={`${r}-${c}`} row={r} col={c} />))}
    </div>
  );
}
